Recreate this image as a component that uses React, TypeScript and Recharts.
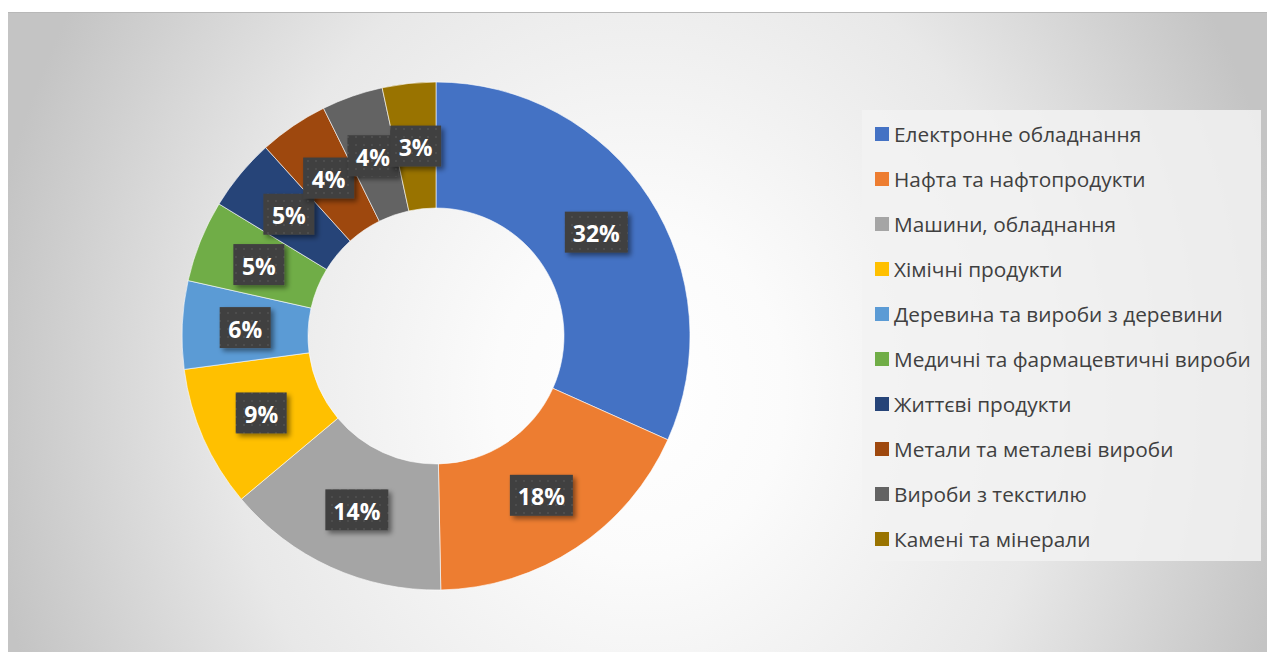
import React from 'react'
import { PieChart, Pie, Cell, Legend } from 'recharts'

// export structure, %
const categories = [
  'Електронне обладнання',
  'Нафта та нафтопродукти',
  'Машини, обладнання',
  'Хімічні продукти',
  'Деревина та вироби з деревини',
  'Медичні та фармацевтичні вироби',
  'Життєві продукти',
  'Метали та металеві вироби',
  'Вироби з текстилю',
  'Камені та мінерали',
]
const shares = [31.7, 18.0, 14.2, 9.0, 5.6, 5.2, 4.6, 4.4, 3.9, 3.4]
const COLORS = ['#4472C4', '#ED7D31', '#A5A5A5', '#FFC000', '#5B9BD5', '#70AD47', '#264478', '#9E480E', '#636363', '#997300']

const data = categories.map((name, i) => ({ name, value: shares[i] }))

const FONT = '"Open Sans", "DejaVu Sans", sans-serif'
const RADIAN = Math.PI / 180

const renderLabel = (props: any) => {
  const { cx, cy, midAngle, innerRadius, outerRadius, percent } = props
  const r = (innerRadius + outerRadius) / 2
  const x = cx + r * Math.cos(-midAngle * RADIAN)
  const y = cy + r * Math.sin(-midAngle * RADIAN)
  const text = `${Math.round(percent * 100)}%`
  const w = text.length > 2 ? 63 : 51
  const h = 41
  return (
    <g>
      <rect x={x - w / 2} y={y - h / 2} width={w} height={h} fill="url(#lblDots)" filter="url(#lblShadow)" />
      <text x={x} y={y + 1} fill="#fff" textAnchor="middle" dominantBaseline="central" fontFamily={FONT} fontWeight={700} fontSize={23}>
        {text}
      </text>
    </g>
  )
}

const renderLegend = () => (
  <div style={{ background: 'rgba(242,242,242,0.85)', width: 399, height: 451, boxSizing: 'border-box', paddingTop: 1 }}>
    {categories.map((c, i) => (
      <div key={c} style={{ display: 'flex', alignItems: 'center', height: 45, paddingLeft: 13 }}>
        <span style={{ width: 14, height: 14, background: COLORS[i], marginRight: 5, flexShrink: 0 }} />
        <span style={{ fontFamily: FONT, fontSize: 20.8, color: '#404040', whiteSpace: 'nowrap' }}>{c}</span>
      </div>
    ))}
  </div>
)

export default function App() {
  return (
    <div style={{ position: 'absolute', left: 0, top: 0, width: 1267, height: 652, background: '#fff' }}>
      <div
        style={{
          position: 'absolute',
          left: 8,
          top: 12,
          width: 1259,
          height: 640,
          boxSizing: 'border-box',
          borderTop: '1px solid #b8b8b8',
          background: 'radial-gradient(ellipse 660px 760px at 632px 380px, #ffffff 0%, #fbfbfb 22%, #e8e8e8 62%, #c4c4c4 100%)',
        }}
      >
        <PieChart width={1259} height={639} margin={{ top: 0, right: 0, bottom: 0, left: 0 }}>
          <defs>
            <pattern id="lblDots" width="8" height="8" patternUnits="userSpaceOnUse">
              <rect width="8" height="8" fill="#404040" />
              <rect x="3" y="3" width="2" height="2" fill="#4d4d4d" />
            </pattern>
            <filter id="lblShadow" x="-30%" y="-30%" width="160%" height="170%">
              <feDropShadow dx="3" dy="3" stdDeviation="2.5" floodColor="#000" floodOpacity="0.45" />
            </filter>
          </defs>
          <Pie
            data={data}
            dataKey="value"
            nameKey="name"
            cx={428}
            cy={323}
            innerRadius={128}
            outerRadius={254}
            startAngle={90}
            endAngle={-270}
            stroke="#ffffff"
            strokeWidth={0.6}
            labelLine={false}
            label={renderLabel}
            isAnimationActive={false}
          >
            {data.map((entry, i) => (
              <Cell key={`cell-${i}`} fill={COLORS[i]} />
            ))}
          </Pie>
          <Legend
            layout="vertical"
            verticalAlign="top"
            align="right"
            content={renderLegend}
            wrapperStyle={{ left: 854, top: 97, width: 399 }}
          />
        </PieChart>
      </div>
    </div>
  )
}
